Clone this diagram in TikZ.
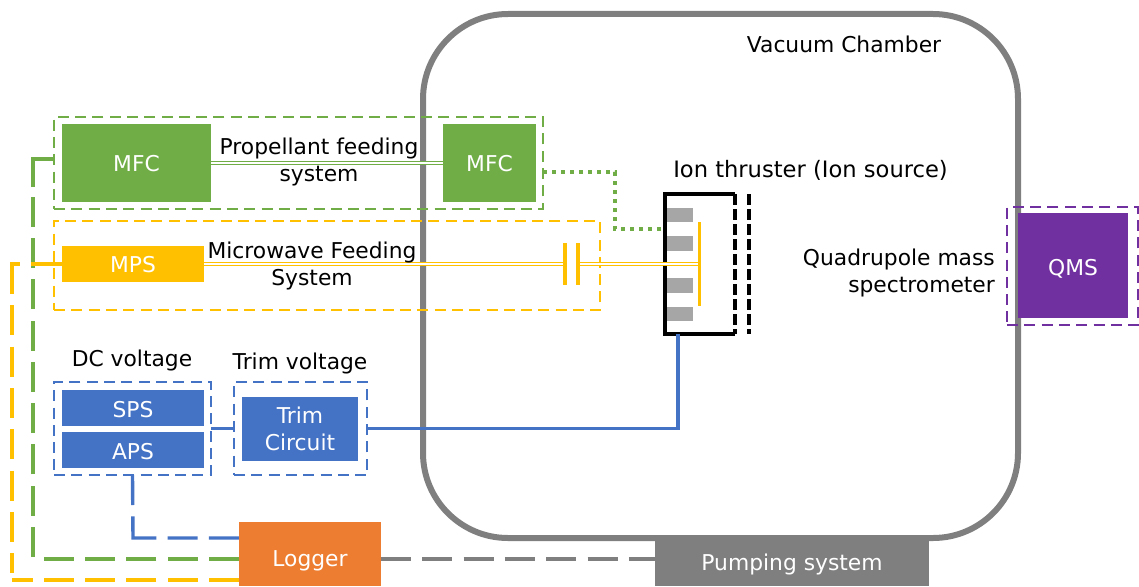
\documentclass[tikz,border=0pt]{standalone}
\usepackage{fontspec}
\setmainfont{DejaVu Sans}
\definecolor{cgreen}{HTML}{70AD47}
\definecolor{cyellow}{HTML}{FFC000}
\definecolor{cblue}{HTML}{4472C4}
\definecolor{corange}{HTML}{ED7D31}
\definecolor{cgray}{HTML}{7F7F7F}
\definecolor{cpurple}{HTML}{7030A0}
\definecolor{cbrick}{HTML}{A6A6A6}
\newcommand\lowered[2]{\raisebox{-#1}[0pt][0pt]{#2}}
\tikzset{
  txt/.style={font=\fontsize{21.8}{27}\selectfont,align=center,inner sep=0pt,text=black},
  unit/.style={txt,text=white,inner sep=0pt,outer sep=0pt,minimum width=#1},
  dbox/.style={draw=#1,line width=2.4pt,dash pattern=on 11pt off 6.3pt,inner sep=0pt,outer sep=0pt},
  longdash/.style={draw=#1,line width=3.4pt,dash pattern=on 30pt off 11.3pt},
  conn/.style={draw=#1,line width=3.4pt},
  feedline/.style={draw=#1,line width=1.6pt,double=white,double distance=1.4pt},
  brick/.style={fill=cbrick,inner sep=0pt,outer sep=0pt,minimum width=27pt},
}
\begin{document}
\begin{tikzpicture}[x=1pt,y=-1pt]
\useasboundingbox (0,0) rectangle (1139,586);
% chamber
\node[draw=cgray,line width=6pt,rounded corners=85pt,minimum width=595pt,minimum height=524pt,inner sep=0pt,outer sep=0pt] (chamber) at (720.5,276) {};
\node[txt] (chlabel) at (844,44.5) {Vacuum Chamber};
% thruster
\node[inner sep=0pt,outer sep=0pt,minimum width=70pt,minimum height=140pt] (thruster) at (700,264) {};
\node[brick,minimum height=14pt] (b1) at (679.5,215) {};
\node[brick,minimum height=15pt] (b2) at (679.5,243.5) {};
\node[brick,minimum height=15pt] (b3) at (679.5,285.5) {};
\node[brick,minimum height=14pt] (b4) at (679.5,314) {};
\draw[black,line width=3.6pt,line join=miter] (thruster.north east) -- (thruster.north west) -- (thruster.south west) -- (thruster.south east);
\draw[black,line width=3.6pt,dash pattern=on 10.5pt off 4.5pt] (thruster.north east) -- (thruster.south east);
\coordinate (grid2a) at (749,194);
\coordinate (grid2b) at (749,334);
\draw[black,line width=3.6pt,dash pattern=on 10.5pt off 4.5pt] (grid2a) -- (grid2b);
\node[txt,font=\fontsize{22.6}{27}\selectfont] (ionlabel) at (810.5,170) {Ion thruster (Ion source)};
% green group
\node[dbox=cgreen,minimum width=489pt,minimum height=92pt] (gbox) at (298.5,163) {};
\node[unit=149pt,fill=cgreen,minimum height=78pt] (mfcA) at (136.5,163) {\lowered{8.7pt}{MFC}};
\node[unit=93pt,fill=cgreen,minimum height=78pt] (mfcB) at (489.5,163) {\lowered{8.7pt}{MFC}};
\draw[feedline=cgreen] (mfcA) -- (mfcB);
\node[txt] (proplabel) at (319,161.5) {Propellant feeding\\system};
\coordinate (gportA) at (543,172);
\coordinate (gportB) at (665,229);
\draw[cgreen,line width=3.6pt,dash pattern=on 4pt off 5pt] (gportA) -- (615,172) -- (615,229) -- (gportB);
% yellow group
\node[dbox=cyellow,minimum width=546pt,minimum height=89pt] (ybox) at (327,265.5) {};
\node[unit=142pt,fill=cyellow,minimum height=36pt] (mps) at (133,264) {\lowered{8.7pt}{MPS}};
\coordinate (capA) at (565,264);
\coordinate (capB) at (578,264);
\coordinate (plate) at (699,264);
\draw[feedline=cyellow] (mps.east) -- (capA);
\draw[feedline=cyellow] (capB) -- (plate);
\draw[cyellow,line width=3.4pt] (565,243) -- (565,285);
\draw[cyellow,line width=3.4pt] (578,243) -- (578,285);
\draw[cyellow,line width=3.4pt] (699.5,222) -- (699.5,306);
\node[txt] (mwlabel) at (312,265.5) {Microwave Feeding\\System};
% blue group
\node[dbox=cblue,minimum width=157pt,minimum height=93pt] (dcbox) at (132.5,428.5) {};
\node[unit=142pt,fill=cblue,minimum height=36pt] (sps) at (133,408) {\lowered{9.3pt}{SPS}};
\node[unit=142pt,fill=cblue,minimum height=36pt] (aps) at (133,450) {\lowered{9.5pt}{APS}};
\node[dbox=cblue,minimum width=133pt,minimum height=93pt] (trimbox) at (300.5,428.5) {};
\node[unit=116pt,fill=cblue,minimum height=64pt] (trim) at (300,429) {Trim\\Circuit};
\node[txt] (dclabel) at (132,360) {DC voltage};
\node[txt] (trimlabel) at (300,363) {Trim voltage};
\draw[conn=cblue] (dcbox.east) -- (trimbox.west);
\coordinate (thrbot) at (678,334);
\draw[conn=cblue] (trimbox.east) -| (thrbot);
% QMS
\node[dbox=cpurple,minimum width=131pt,minimum height=118pt] (qbox) at (1072.5,266) {};
\node[unit=110pt,fill=cpurple,minimum height=105pt] (qms) at (1073,265.5) {\lowered{9.5pt}{QMS}};
\node[txt,align=right,anchor=east] (qlabel) at (995,272.5) {Quadrupole mass\\spectrometer};
% logger & pump
\node[unit=142pt,fill=corange,minimum height=64pt] (logger) at (310,554) {\lowered{12.7pt}{Logger}};
\node[unit=274pt,fill=cgray,minimum height=46pt] (pump) at (792,563) {\lowered{7pt}{Pumping system}};
\coordinate (lgB) at (239,538);
\coordinate (lgG) at (239,559);
\coordinate (lgY) at (239,580);
\coordinate (lgR) at (381,559);
\coordinate (pmL) at (655,559);
% blue dashed
\draw[cblue,line width=3.4pt,dash pattern=on 30pt off 11.3pt on 45pt off 11.3pt on 30pt off 11.3pt on 30pt off 11.3pt] (dcbox.south) -- (133,538) -- (lgB);
% green dashed
\coordinate (gA) at (44,559);
\coordinate (gB) at (33,557);
\coordinate (gC) at (33,159);
\coordinate (gD) at (54,159);
\draw[longdash=cgreen] (lgG) -- (gA);
\draw[longdash=cgreen] (gB) -- (gC);
\draw[conn=cgreen] (33,187) -- (gC) -- (gD);
% yellow dashed
\coordinate (yA) at (12,580);
\coordinate (yB) at (12,573);
\coordinate (yC) at (12,264);
\coordinate (yD) at (20,264);
\coordinate (yE) at (31,264);
\draw[longdash=cyellow] (lgY) -- (yA);
\draw[longdash=cyellow] (yC) -- (yB);
\draw[conn=cyellow] (12,290) -- (yC) -- (yD);
\draw[conn=cyellow] (yE) -- (mps.west);
% gray dashed
\draw[longdash=cgray] (lgR) -- (pmL);
\end{tikzpicture}
\end{document}
